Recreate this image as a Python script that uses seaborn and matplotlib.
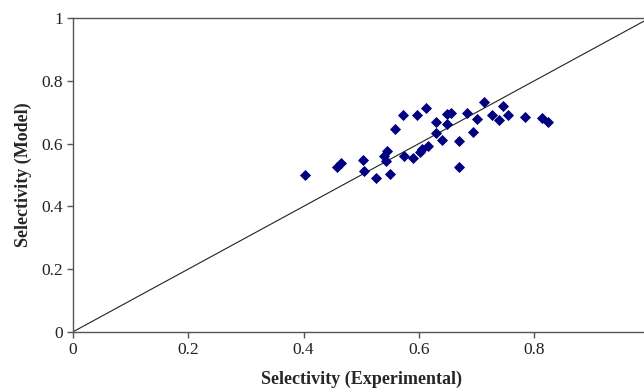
import numpy as np
import pandas as pd
import seaborn as sns
import matplotlib
matplotlib.use('Agg')
import matplotlib.pyplot as plt

# 读取的数据点（实验值 vs 模型值）
sel_exp = [0.403, 0.458, 0.465, 0.503, 0.504, 0.526, 0.550, 0.545, 0.540, 0.543,
           0.574, 0.589, 0.602, 0.605, 0.616, 0.559, 0.573, 0.597, 0.612, 0.629,
           0.648, 0.655, 0.648, 0.630, 0.640, 0.670, 0.670, 0.683, 0.700, 0.694,
           0.713, 0.726, 0.739, 0.746, 0.754, 0.783, 0.814, 0.824]
sel_model = [0.499, 0.526, 0.537, 0.548, 0.513, 0.490, 0.503, 0.576, 0.559, 0.546,
             0.562, 0.553, 0.574, 0.582, 0.592, 0.647, 0.691, 0.691, 0.712, 0.670,
             0.694, 0.698, 0.662, 0.633, 0.612, 0.608, 0.525, 0.698, 0.677, 0.636,
             0.732, 0.691, 0.675, 0.719, 0.690, 0.684, 0.681, 0.668]

# y = x 参考线
diag_x = [0, 1]
diag_y = [0, 1]

x_ticks = [0, 0.2, 0.4, 0.6, 0.8]
x_labels = ['0', '0.2', '0.4', '0.6', '0.8']
y_ticks = [0, 0.2, 0.4, 0.6, 0.8, 1.0]
y_labels = ['0', '0.2', '0.4', '0.6', '0.8', '1']

df = pd.DataFrame({'exp': sel_exp, 'model': sel_model})

sns.set_style('white')
plt.rcParams['font.family'] = ['Liberation Serif', 'DejaVu Serif']

fig = plt.figure(figsize=(6.44, 3.92), dpi=100)
# 坐标轴右侧超出画布（原图被裁切）
ax = fig.add_axes([0.1129, 0.1531, 0.896, 0.801])

ax.plot(diag_x, diag_y, color='#222222', linewidth=0.8, zorder=1)
sns.scatterplot(data=df, x='exp', y='model', marker='D', color='#000080',
                s=32, linewidth=0, ax=ax, zorder=2)

ax.set_xlim(0, 1)
ax.set_ylim(0, 1)
ax.set_xticks(x_ticks)
ax.set_xticklabels(x_labels)
ax.set_yticks(y_ticks)
ax.set_yticklabels(y_labels)
ax.tick_params(axis='both', direction='out', length=4, width=1, color='#555555',
               labelsize=12.5, labelcolor='#222222', pad=3, bottom=True, left=True)

for side in ['left', 'bottom', 'top']:
    ax.spines[side].set_color('#555555')
    ax.spines[side].set_linewidth(1)
ax.spines['right'].set_visible(False)

ax.set_xlabel('Selectivity (Experimental)', fontsize=13, fontweight='bold', labelpad=9)
ax.set_ylabel('Selectivity (Model)', fontsize=13, fontweight='bold', labelpad=7)

plt.savefig('out.png', dpi=100)
